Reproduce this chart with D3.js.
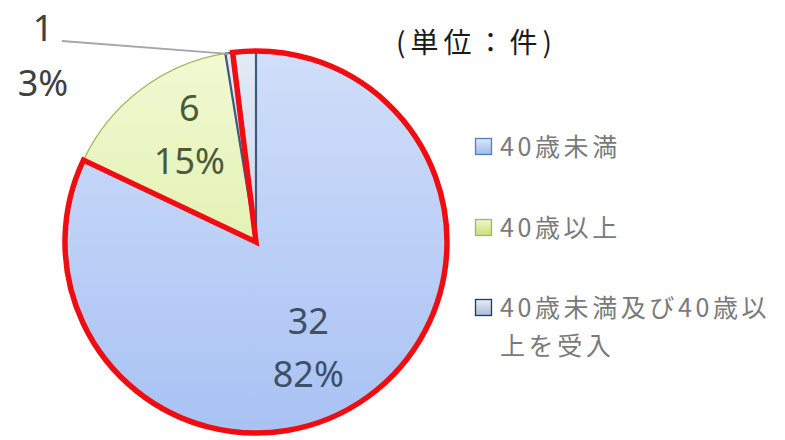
<!DOCTYPE html>
<html><head><meta charset="utf-8">
<script src="https://cdn.jsdelivr.net/npm/d3@7"></script>
<style>
html,body{margin:0;padding:0;background:#fff;}
svg{display:block;}
</style>
</head><body>
<svg id="chart" width="785" height="440"></svg>
<script>
// ---- data ----
const categories = ["40歳未満", "40歳以上", "40歳未満及び40歳以上を受入"];
const values = [32, 6, 1];
const percentLabels = ["82%", "15%", "3%"];
const unitLabel = "(単位：件)";

// ---- styles ----
const fills = ["url(#gBlue)", "url(#gGreen)", "url(#gGrey)"];
const strokes = ["#4f81bd", "#9bbb59", "#3d5a80"];
const legendFill = ["url(#lBlue)", "url(#lGreen)", "url(#lGrey)"];
const legendStroke = ["#4f81bd", "#9bbb59", "#1f3864"];
const labelColors = ["#3e4f68", "#4a5a3a", "#404040"];

const svg = d3.select("#chart");
const defs = svg.append("defs");
function grad(id, c1, c2) {
  const g = defs.append("linearGradient").attr("id", id)
    .attr("x1", 0).attr("y1", 0).attr("x2", 0).attr("y2", 1);
  g.append("stop").attr("offset", "0%").attr("stop-color", c1);
  g.append("stop").attr("offset", "100%").attr("stop-color", c2);
}
grad("gBlue", "#d0def9", "#a8c2f3");
grad("gGreen", "#f1f9d2", "#e3f2b4");
grad("gGrey", "#e2eaf6", "#cbd9ee");
grad("lBlue", "#dbe7fb", "#9dbbeb");
grad("lGreen", "#eef7c8", "#c8e07c");
grad("lGrey", "#e6edf7", "#a9bcd8");

const cx = 256, cy = 242, r = 191;
const g = svg.append("g").attr("transform", `translate(${cx},${cy})`);

const pie = d3.pie().sort(null).value(d => d)
  .startAngle(0).endAngle(2 * Math.PI);
const arcs = pie(values);
const arc = d3.arc().innerRadius(0).outerRadius(r);

g.selectAll("path.slice").data(arcs).enter().append("path")
  .attr("class", "slice")
  .attr("d", arc)
  .attr("fill", (d, i) => fills[i])
  .attr("stroke", (d, i) => strokes[i])
  .attr("stroke-width", (d, i) => i === 2 ? 2.2 : 1.3)
  .attr("stroke-linejoin", "round");

// red highlight outline enclosing the under-40 slice and the small slice
const deg = Math.PI / 180;
const redArc = d3.arc().innerRadius(0).outerRadius(r)
  .startAngle(arcs[2].startAngle + 2.2 * deg - 2 * Math.PI)
  .endAngle(arcs[0].endAngle);
g.append("path").attr("d", redArc())
  .attr("fill", "none").attr("stroke", "#f00d12")
  .attr("stroke-width", 5.5).attr("stroke-linejoin", "miter");

// inner labels
const labelFont = "'Noto Sans', 'Open Sans', sans-serif";
const labelRadius = [118, 126];
const angleShift = [6 * deg, 5 * deg];
[0, 1].forEach(i => {
  const a = (arcs[i].startAngle + arcs[i].endAngle) / 2 + angleShift[i];
  const x = Math.sin(a) * labelRadius[i];
  const y = -Math.cos(a) * labelRadius[i];
  const t = g.append("text").attr("text-anchor", "middle")
    .attr("font-family", labelFont).attr("font-size", 36)
    .attr("fill", labelColors[i]);
  t.append("tspan").attr("x", x).attr("y", y - 27 + 13).text(values[i]);
  t.append("tspan").attr("x", x).attr("y", y + 27 + 12).text(percentLabels[i]);
});

// outside label for the small slice with leader line
const sa = arcs[2].startAngle + 1 * deg;
const lx0 = Math.sin(sa) * (r - 1), ly0 = -Math.cos(sa) * (r - 1);
const outX = -194, outY = -201;  // label anchor offset from centre
g.append("line").attr("x1", lx0).attr("y1", ly0)
  .attr("x2", outX).attr("y2", outY)
  .attr("stroke", "#a6a6a6").attr("stroke-width", 1.8);
const t3 = g.append("text").attr("text-anchor", "middle")
  .attr("font-family", labelFont).attr("font-size", 36)
  .attr("fill", labelColors[2]);
t3.append("tspan").attr("x", outX - 19).attr("y", outY + 0).text(values[2]);
t3.append("tspan").attr("x", outX - 19).attr("y", outY + 55).text(percentLabels[2]);

// unit label
svg.append("text").attr("x", 396).attr("y", 53)
  .attr("font-family", "'Noto Sans CJK JP', sans-serif")
  .attr("font-size", 28).attr("letter-spacing", 5)
  .attr("fill", "#1a1a1a").text(unitLabel);

// legend
const legendY = [147, 228, 308];
const jp = "'Noto Sans CJK JP', sans-serif";
const maxW = 290;
categories.forEach((c, i) => {
  const y = legendY[i];
  svg.append("rect").attr("x", 475.5).attr("y", y - 8.5)
    .attr("width", 16).attr("height", 16)
    .attr("fill", legendFill[i]).attr("stroke", legendStroke[i]).attr("stroke-width", 1.3);
  const t = svg.append("text").attr("font-family", jp).attr("font-size", 25)
    .attr("letter-spacing", 3.6).attr("fill", "#7a7a7a");
  // wrap text by measuring
  const chars = Array.from(c);
  let line = "", lines = [];
  const probe = t.append("tspan");
  chars.forEach(ch => {
    probe.text(line + ch);
    if (probe.node().getComputedTextLength() > maxW && line) {
      lines.push(line); line = ch;
    } else line += ch;
  });
  lines.push(line);
  probe.remove();
  lines.forEach((l, k) => {
    t.append("tspan").attr("x", 500).attr("y", y + 9 + k * 38).text(l);
  });
});
</script>
</body></html>
